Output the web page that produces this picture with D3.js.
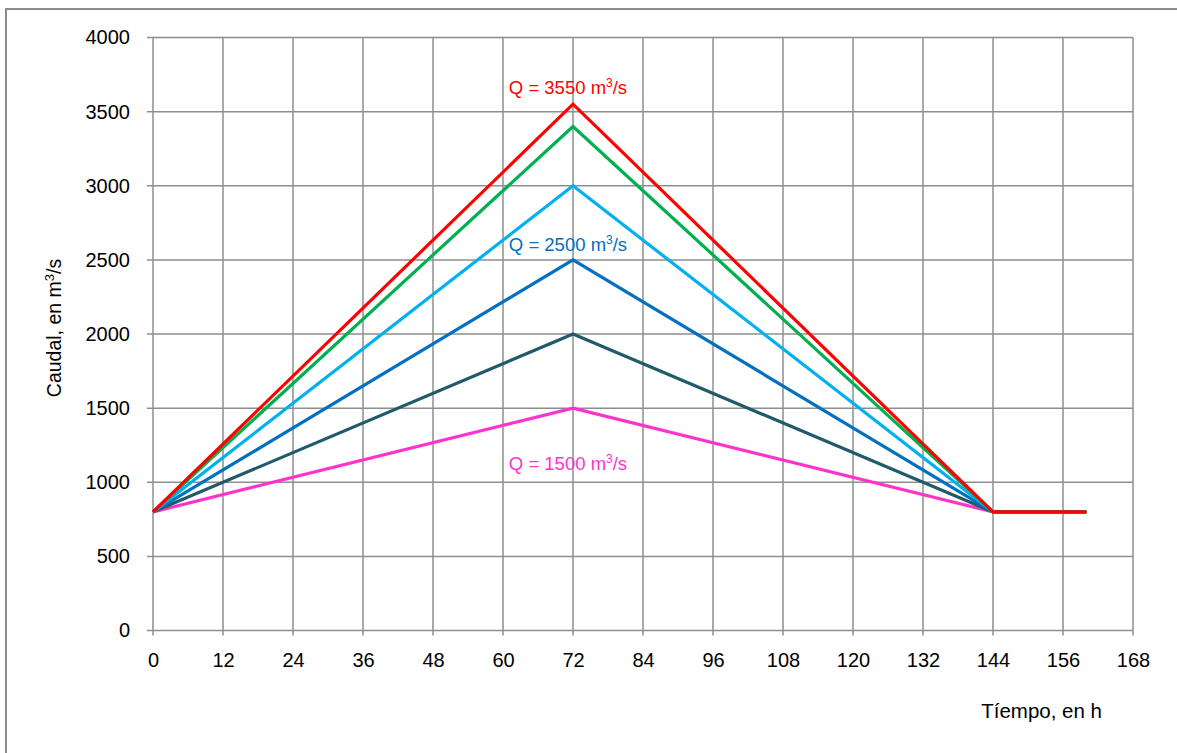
<!DOCTYPE html>
<html>
<head>
<meta charset="utf-8">
<script src="https://cdn.jsdelivr.net/npm/d3@7"></script>
<style>
  html, body { margin: 0; padding: 0; background: #fff; }
  svg { display: block; font-family: Arial, "Liberation Sans", sans-serif; }
</style>
</head>
<body>
<svg id="chart" width="1177" height="753"></svg>
<script>
// ---- data ----
const hours = [0, 72, 144, 160];
const seriesNames = ["Q1500", "Q2000", "Q2500", "Q3000", "Q3400", "Q3550"];
const q1500 = [800, 1500, 800, 800];
const q2000 = [800, 2000, 800, 800];
const q2500 = [800, 2500, 800, 800];
const q3000 = [800, 3000, 800, 800];
const q3400 = [800, 3400, 800, 800];
const q3550 = [800, 3550, 800, 800];
const seriesColors = ["#ff33cc", "#215a68", "#0070c0", "#00b0f0", "#00b050", "#ff0000"];
const xTicks = [0, 12, 24, 36, 48, 60, 72, 84, 96, 108, 120, 132, 144, 156, 168];
const yTicks = [0, 500, 1000, 1500, 2000, 2500, 3000, 3500, 4000];
const annotations = [
  { text: "Q = 3550 m", x: 72, y: 3550, color: "#ff0000", dy: -10 },
  { text: "Q = 2500 m", x: 72, y: 2500, color: "#0070c0", dy: -9 },
  { text: "Q = 1500 m", x: 72, y: 1500, color: "#ff33cc", dy: 62 }
];
const xTitle = "Tíempo, en h";
const yTitle = "Caudal, en m";

const allSeries = [q1500, q2000, q2500, q3000, q3400, q3550];

// ---- layout ----
const svg = d3.select("#chart");
const pLeft = 153, pRight = 1133, pTop = 37.5, pBottom = 630.5;

const x = d3.scaleLinear().domain([0, 168]).range([pLeft, pRight]);
const y = d3.scaleLinear().domain([0, 4000]).range([pBottom, pTop]);

// outer border (left + top only visible)
svg.append("path")
  .attr("d", `M6,760 L6,9 L1185,9`)
  .attr("fill", "none")
  .attr("stroke", "#8c8c8c")
  .attr("stroke-width", 2);

const gridColor = "#8e8e8e";

// gridlines
svg.append("g").selectAll("line").data(xTicks).join("line")
  .attr("x1", d => x(d)).attr("x2", d => x(d))
  .attr("y1", pTop).attr("y2", pBottom + 5)
  .attr("stroke", gridColor).attr("stroke-width", 1.5);
svg.append("g").selectAll("line").data(yTicks).join("line")
  .attr("x1", pLeft - 6).attr("x2", pRight)
  .attr("y1", d => y(d)).attr("y2", d => y(d))
  .attr("stroke", gridColor).attr("stroke-width", 1.5);

// axes labels via d3 axes
const yAxis = d3.axisLeft(y).tickValues(yTicks).tickSize(0).tickPadding(23).tickFormat(d3.format("d"));
const gy = svg.append("g").attr("transform", `translate(${pLeft},0)`).call(yAxis);
gy.select(".domain").remove();
gy.selectAll("text").attr("font-size", 20).attr("fill", "#000").attr("font-family", "Arial, 'Liberation Sans', sans-serif");

const xAxis = d3.axisBottom(x).tickValues(xTicks).tickSize(0).tickPadding(22).tickFormat(d3.format("d"));
const gx = svg.append("g").attr("transform", `translate(0,${pBottom})`).call(xAxis);
gx.select(".domain").remove();
gx.selectAll("text").attr("font-size", 20).attr("fill", "#000").attr("font-family", "Arial, 'Liberation Sans', sans-serif");

// lines
const line = d3.line().x((d, i) => x(hours[i])).y(d => y(d));
svg.append("g").selectAll("path").data(allSeries).join("path")
  .attr("d", d => line(d))
  .attr("fill", "none")
  .attr("stroke", (d, i) => seriesColors[i])
  .attr("stroke-width", 3.2)
  .attr("stroke-linejoin", "miter");

// annotations
annotations.forEach(a => {
  const t = svg.append("text")
    .attr("x", x(a.x) - 5)
    .attr("y", y(a.y) + a.dy)
    .attr("text-anchor", "middle")
    .attr("font-size", 18.5)
    .attr("fill", a.color);
  t.append("tspan").text(a.text);
  t.append("tspan").attr("font-size", 12).attr("dy", -7).text("3");
  t.append("tspan").attr("dy", 7).text("/s");
});

// axis titles
svg.append("text")
  .attr("x", 1102).attr("y", 718)
  .attr("text-anchor", "end")
  .attr("font-size", 20.5)
  .attr("fill", "#000")
  .text(xTitle);

const yt = svg.append("text")
  .attr("transform", "translate(61,328) rotate(-90)")
  .attr("text-anchor", "middle")
  .attr("font-size", 19.5)
  .attr("fill", "#000");
yt.append("tspan").text(yTitle);
yt.append("tspan").attr("font-size", 13).attr("dy", -7).text("3");
yt.append("tspan").attr("dy", 7).text("/s");
</script>
</body>
</html>
